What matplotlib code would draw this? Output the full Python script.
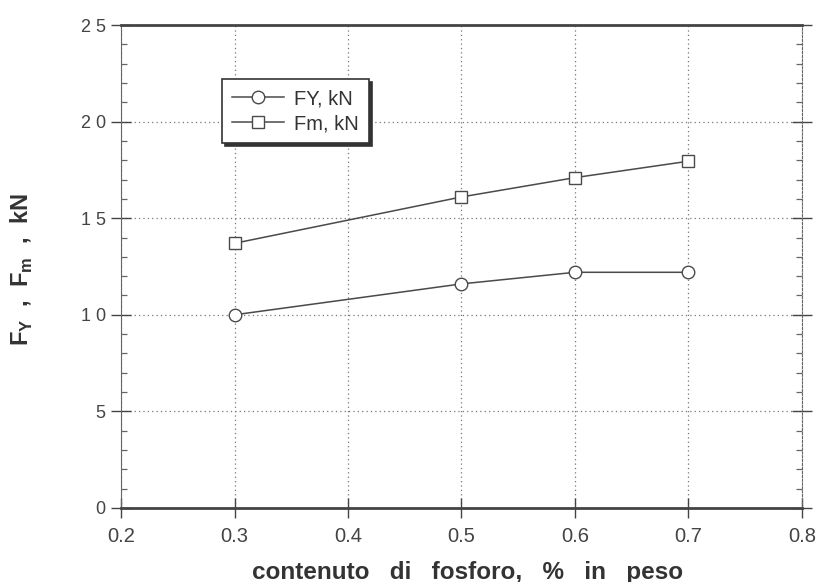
import matplotlib
matplotlib.use("Agg")
import matplotlib.pyplot as plt
from matplotlib.ticker import MultipleLocator

phosphorus = [0.3, 0.5, 0.6, 0.7]
fy_values = [10.0, 11.6, 12.2, 12.2]
fm_values = [13.7, 16.1, 17.1, 17.95]
series_labels = ["FY, kN", "Fm, kN"]
x_ticks = [0.2, 0.3, 0.4, 0.5, 0.6, 0.7, 0.8]
x_tick_labels = ["0.2", "0.3", "0.4", "0.5", "0.6", "0.7", "0.8"]
y_ticks = [0, 5, 10, 15, 20, 25]
y_tick_labels = ["0", "5", "1 0", "1 5", "2 0", "2 5"]
x_label = "contenuto   di   fosforo,   %   in   peso"
y_label = r"F$_{\mathregular{Y}}$  ,  F$_{\mathregular{m}}$  ,  kN"

plt.rcParams['font.family'] = ['Liberation Sans', 'DejaVu Sans']

W, H = 818, 582
fig = plt.figure(figsize=(W / 100, H / 100), dpi=100)
left, right, bottom, top = 121, 802, 508, 25
ax = fig.add_axes([left / W, 1 - bottom / H, (right - left) / W, (bottom - top) / H])

c = "#4a4a4a"
ax.plot(phosphorus, fy_values, color=c, lw=1.1, marker="o", ms=9, mfc="white",
        mec=c, mew=1.0, label=series_labels[0], zorder=3)
ax.plot(phosphorus, fm_values, color=c, lw=1.1, marker="s", ms=8.5, mfc="white",
        mec=c, mew=1.0, label=series_labels[1], zorder=3)

ax.set_xlim(0.2, 0.8)
ax.set_ylim(0, 25)
ax.yaxis.set_minor_locator(MultipleLocator(1))
ax.set_xticks(x_ticks)
ax.set_xticklabels(x_tick_labels)
ax.set_yticks(y_ticks)
ax.set_yticklabels(y_tick_labels)

ax.grid(True, which="major", linestyle=(0, (1, 2.5)), color="#777777", lw=0.9)
ax.tick_params(which="major", direction="inout", length=14, width=1.0, color="#444444",
               labelcolor="#444444", right=True, top=False)
ax.tick_params(which="minor", direction="in", length=4, width=0.9, color="#666666",
               right=True)
ax.tick_params(axis="x", pad=7, labelsize=14.5)
ax.tick_params(axis="y", pad=4, labelsize=13)

for side in ["top", "bottom"]:
    ax.spines[side].set_linewidth(2.0)
    ax.spines[side].set_color("#444444")
for side in ["left", "right"]:
    ax.spines[side].set_linewidth(0.8)
    ax.spines[side].set_color("#666666")
ax.spines["right"].set_linestyle((0, (2, 1.5)))

ax.set_xlabel(x_label, fontsize=17.5, fontweight="bold", color="#333333")
ax.xaxis.set_label_coords(468 / W, 1 - 572 / H, transform=fig.transFigure)
ax.xaxis.label.set_va("center")
ax.set_ylabel(y_label, fontsize=17, fontweight="bold", color="#333333")
ax.yaxis.set_label_coords(22 / W, 1 - 270 / H, transform=fig.transFigure)
ax.yaxis.label.set_va("center")

leg = ax.legend(loc="upper left", bbox_to_anchor=(222 / W, 1 - 79 / H),
                bbox_transform=fig.transFigure, fancybox=False,
                shadow={'color': '#333333', 'alpha': 1.0},
                frameon=True, fontsize=14.5, handlelength=2.6, borderpad=0.5,
                labelspacing=0.3, handletextpad=0.5, borderaxespad=0)
leg.get_frame().set_edgecolor("#333333")
leg.get_frame().set_linewidth(1.2)
for t in leg.get_texts():
    t.set_color("#333333")

fig.savefig("out.png", dpi=100, facecolor="white")
